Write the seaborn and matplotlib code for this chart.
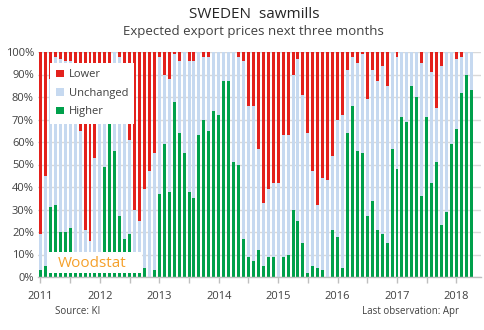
import numpy as np
import pandas as pd
import matplotlib
matplotlib.use("Agg")
import matplotlib.pyplot as plt
from matplotlib.patches import Patch, Rectangle
import seaborn as sns

# Monthly survey, Jan 2011 - Apr 2018
months = pd.date_range("2011-01-01", "2018-04-01", freq="MS")

# Share of sawmills expecting higher export prices (%)
higher = [
    3, 5, 31, 32, 20, 20, 22, 3, 3, 2, 2, 2,
    3, 49, 69, 56, 27, 17, 19, 4, 3, 4, 0, 3,
    37, 59, 38, 78, 64, 55, 38, 35, 63, 70, 65, 74,
    72, 87, 87, 51, 50, 17, 9, 7, 12, 5, 9, 9,
    0, 9, 10, 30, 25, 15, 2, 5, 4, 3, 0, 21,
    18, 4, 64, 76, 56, 55, 27, 34, 21, 19, 15, 57,
    48, 71, 69, 85, 80, 36, 71, 42, 51, 23, 29, 59,
    66, 82, 90, 83,
]

# Share of sawmills expecting lower export prices (%)
lower = [
    81, 55, 12, 2, 3, 4, 4, 12, 35, 79, 84, 47,
    10, 8, 6, 0, 2, 10, 39, 70, 75, 61, 53, 45,
    2, 10, 12, 1, 4, 0, 4, 4, 0, 2, 2, 0,
    0, 0, 0, 0, 2, 4, 24, 24, 43, 67, 61, 58,
    58, 37, 37, 10, 3, 19, 36, 53, 68, 56, 57, 46,
    30, 28, 8, 2, 5, 1, 21, 8, 13, 6, 15, 0,
    2, 0, 0, 0, 0, 5, 0, 9, 25, 6, 0, 0,
    3, 2, 0, 0,
]

year_labels = ["2011", "2012", "2013", "2014", "2015", "2016", "2017", "2018"]
answers = ["Lower", "Unchanged", "Higher"]
palette = {"Lower": "#E3211C", "Unchanged": "#C6D9F0", "Higher": "#00A04B"}

unchanged = [100 - h - l for h, l in zip(higher, lower)]

wide = pd.DataFrame({
    "month": np.arange(len(months)),
    "Higher": higher,
    "Unchanged": unchanged,
    "Lower": lower,
})
long = wide.melt(id_vars="month", var_name="answer", value_name="share")

sns.set_style("white")
plt.rcParams["font.family"] = ["Open Sans", "DejaVu Sans"]

fig = plt.figure(figsize=(4.85, 3.3), dpi=100)
ax = fig.add_axes([38 / 485, 1 - 277 / 330, (480.7 - 38) / 485, 225 / 330])

sns.histplot(
    data=long, x="month", weights="share", hue="answer",
    hue_order=answers, multiple="stack", discrete=True, shrink=0.6,
    palette=palette, alpha=1, linewidth=0, edgecolor="none",
    legend=False, ax=ax, zorder=2,
)

ax.set_xlim(-0.5, 88.9)
ax.set_ylim(0, 100)
ax.set_xlabel("")
ax.set_ylabel("")

# Ticks every half year, labels at each January
tick_pos = np.arange(0, len(months), 6)
tick_lab = [year_labels[p // 12] if p % 12 == 0 else "" for p in tick_pos]
ax.set_xticks(tick_pos)
ax.set_xticklabels(tick_lab)
ax.set_yticks(np.arange(0, 101, 10))
ax.set_yticklabels([f"{v}%" for v in range(0, 101, 10)])

ax.tick_params(axis="x", length=4, width=1, color="#BFBFBF", pad=6,
               labelsize=8, labelcolor="#404040", direction="out", bottom=True)
ax.tick_params(axis="y", length=0, pad=3, labelsize=8, labelcolor="#404040")

ax.set_axisbelow(True)
ax.yaxis.grid(True, color="#D9D9D9", linewidth=1)
ax.xaxis.grid(False)
for side in ["left", "right", "top"]:
    ax.spines[side].set_visible(False)
ax.spines["bottom"].set_color("#BFBFBF")
ax.spines["bottom"].set_linewidth(1)

handles = [Patch(facecolor=palette[a], edgecolor="none", label=a) for a in answers]
ax.legend(
    handles=handles, loc="upper left", bbox_to_anchor=(0.027, 0.95),
    frameon=True, facecolor="white", edgecolor="none", framealpha=1,
    fancybox=False, fontsize=8, handlelength=0.7, handleheight=0.7,
    handletextpad=0.45, labelspacing=0.68, borderpad=0.55, borderaxespad=0,
    labelcolor="#404040",
)

# Woodstat logo box
ax.add_patch(Rectangle((0.0197, 0.0164), 0.2146, 0.096, transform=ax.transAxes,
                       facecolor="white", edgecolor="none", zorder=5))
ax.text(0.045, 0.045, "Woodstat", transform=ax.transAxes, color="#F5A02A",
        fontsize=11, zorder=6, va="baseline")

fig.text(254 / 485, 1 - 18.3 / 330, "SWEDEN  sawmills", ha="center",
         va="baseline", fontsize=11, color="#262626")
fig.text(253 / 485, 1 - 35.3 / 330, "Expected export prices next three months",
         ha="center", va="baseline", fontsize=9.5, color="#404040")
fig.text(55 / 485, 1 - 314.3 / 330, "Source: KI", ha="left", va="baseline",
         fontsize=7, color="#404040")
fig.text(459 / 485, 1 - 314.3 / 330, "Last observation: Apr", ha="right",
         va="baseline", fontsize=7, color="#404040")

fig.savefig("out.png", dpi=100)
